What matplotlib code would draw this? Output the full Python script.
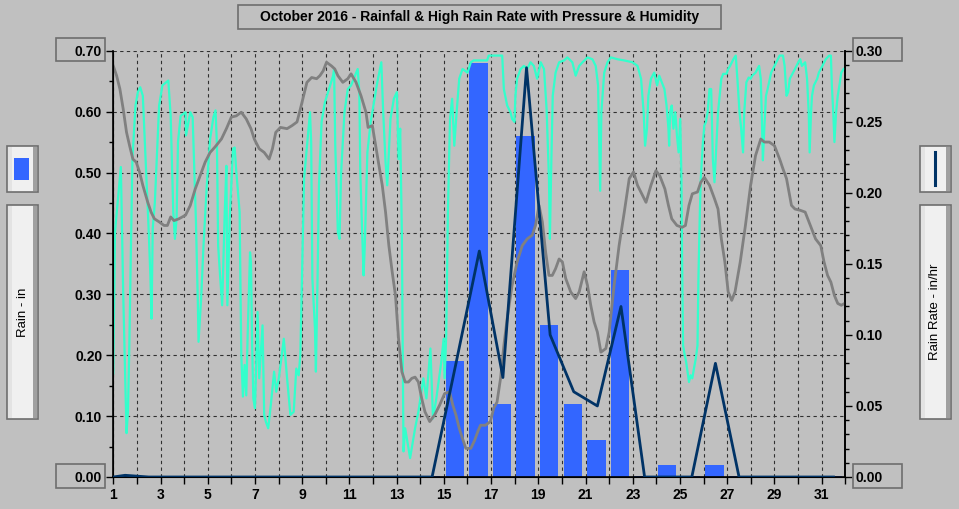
import matplotlib
matplotlib.use('Agg')
import matplotlib.pyplot as plt
from matplotlib.patches import Rectangle
from matplotlib.lines import Line2D
import numpy as np

# daily rainfall (in), bars for days 1..31
rain_day = np.arange(1, 32)
rain_in = [0.002, 0, 0, 0, 0, 0, 0, 0, 0, 0, 0, 0, 0, 0.002, 0.19,
           0.68, 0.12, 0.56, 0.25, 0.12, 0.06, 0.34, 0.002, 0.02, 0.002,
           0.02, 0.002, 0, 0, 0, 0.002]

# high rain rate (in/hr), one point per day, right axis
rate_day = [1.0, 1.5, 2.5, 3.5, 4.5, 5.5, 6.5, 7.5, 8.5, 9.5, 10.5, 11.5,
            12.5, 13.5, 14.5, 15.5, 16.5, 17.5, 18.5, 19.5, 20.5, 21.5,
            22.5, 23.5, 24.5, 25.5, 26.5, 27.5, 28.5, 29.5, 30.5, 31.5]
rate_inhr = [0, 0.0012, 0, 0, 0, 0, 0, 0, 0, 0, 0, 0,
             0, 0, 0, 0.079, 0.159, 0.070, 0.288, 0.100, 0.060, 0.050,
             0.120, 0, 0, 0, 0.080, 0, 0, 0, 0, 0]

# humidity trace (scaled onto rain axis)
hum_day = [1.00, 1.07, 1.21, 1.32, 1.42, 1.56, 1.62, 1.67, 1.81, 1.94, 2.04, 2.14,
           2.25, 2.49, 2.57, 2.62, 2.67, 2.76, 2.94, 3.08, 3.33, 3.43, 3.54, 3.61,
           3.68, 3.74, 3.85, 4.06, 4.08, 4.26, 4.36, 4.50, 4.58, 4.61, 4.72, 4.82,
           4.96, 5.10, 5.24, 5.33, 5.39, 5.44, 5.53, 5.61, 5.72, 5.79, 5.83, 5.93,
           6.07, 6.14, 6.21, 6.35, 6.42, 6.49, 6.56, 6.63, 6.69, 6.79, 6.83, 6.88,
           6.93, 7.00, 7.11, 7.18, 7.32, 7.39, 7.46, 7.56, 7.67, 7.81, 7.90, 8.01,
           8.22, 8.36, 8.50, 8.64, 8.75, 8.85, 8.92, 8.99, 9.08, 9.33, 9.38, 9.43,
           9.54, 9.58, 9.65, 9.71, 9.82, 9.96, 10.31, 10.35, 10.40, 10.51, 10.58, 10.65,
           10.79, 10.93, 11.07, 11.35, 11.42, 11.46, 11.53, 11.60, 11.65, 11.76, 11.90, 12.18,
           12.35, 12.43, 12.53, 12.60, 12.74, 12.88, 13.01, 13.08, 13.15, 13.22, 13.29, 13.36,
           13.57, 13.78, 13.92, 14.13, 14.26, 14.43, 14.54, 14.68, 14.89, 14.99, 15.03, 15.10,
           15.17, 15.26, 15.35, 15.44, 15.54, 15.65, 15.79, 16.00, 16.14, 16.26, 16.83, 16.90,
           17.47, 17.54, 17.68, 17.82, 17.89, 17.99, 18.03, 18.10, 18.25, 18.39, 18.53, 18.67,
           18.81, 18.95, 19.10, 19.24, 19.35, 19.45, 19.49, 19.55, 19.61, 19.73, 19.88, 20.09,
           20.23, 20.44, 20.58, 20.73, 20.87, 21.08, 21.29, 21.43, 21.53, 21.62, 21.67, 21.79,
           21.93, 22.07, 22.35, 22.64, 22.99, 23.20, 23.35, 23.46, 23.52, 23.60, 23.66, 23.77,
           23.91, 24.03, 24.12, 24.34, 24.43, 24.51, 24.54, 24.58, 24.65, 24.72, 24.80, 24.87,
           24.94, 25.01, 25.06, 25.09, 25.13, 25.20, 25.26, 25.30, 25.38, 25.45, 25.52, 25.59,
           25.67, 25.74, 25.78, 25.84, 25.88, 25.96, 26.03, 26.10, 26.17, 26.25, 26.32, 26.39,
           26.46, 26.54, 26.61, 26.68, 26.75, 26.83, 26.97, 27.04, 27.12, 27.26, 27.36, 27.43,
           27.52, 27.59, 27.67, 27.72, 27.81, 27.91, 27.99, 28.06, 28.20, 28.28, 28.35, 28.42,
           28.46, 28.51, 28.57, 28.64, 28.71, 28.86, 29.00, 29.14, 29.22, 29.36, 29.43, 29.51,
           29.58, 29.65, 29.87, 30.01, 30.09, 30.16, 30.30, 30.38, 30.45, 30.49, 30.55, 30.59,
           30.67, 30.81, 30.88, 31.03, 31.17, 31.32, 31.39, 31.43, 31.49, 31.54, 31.61, 31.68,
           31.75, 31.83, 31.93]
hum_val = [0.170, 0.402, 0.462, 0.509, 0.301, 0.072, 0.107, 0.197, 0.522, 0.610, 0.632, 0.640,
           0.626, 0.413, 0.331, 0.260, 0.408, 0.451, 0.610, 0.643, 0.651, 0.593, 0.435, 0.391,
           0.424, 0.550, 0.593, 0.599, 0.561, 0.599, 0.591, 0.419, 0.287, 0.222, 0.293, 0.380,
           0.479, 0.555, 0.591, 0.602, 0.544, 0.380, 0.326, 0.282, 0.435, 0.511, 0.282, 0.424,
           0.539, 0.541, 0.501, 0.435, 0.200, 0.132, 0.184, 0.134, 0.233, 0.369, 0.353, 0.216,
           0.129, 0.113, 0.271, 0.162, 0.249, 0.102, 0.091, 0.080, 0.118, 0.173, 0.140, 0.162,
           0.227, 0.162, 0.102, 0.107, 0.178, 0.167, 0.200, 0.326, 0.490, 0.599, 0.550, 0.326,
           0.244, 0.173, 0.326, 0.479, 0.583, 0.615, 0.659, 0.670, 0.544, 0.402, 0.391, 0.501,
           0.599, 0.637, 0.643, 0.670, 0.632, 0.501, 0.413, 0.331, 0.380, 0.533, 0.583, 0.648,
           0.681, 0.599, 0.517, 0.479, 0.588, 0.621, 0.632, 0.522, 0.572, 0.400, 0.042, 0.080,
           0.031, 0.080, 0.107, 0.162, 0.129, 0.211, 0.096, 0.129, 0.189, 0.227, 0.162, 0.233,
           0.435, 0.588, 0.621, 0.544, 0.599, 0.654, 0.670, 0.664, 0.681, 0.684, 0.684, 0.692,
           0.692, 0.637, 0.610, 0.599, 0.588, 0.583, 0.626, 0.654, 0.670, 0.675, 0.670, 0.681,
           0.675, 0.654, 0.681, 0.670, 0.604, 0.490, 0.391, 0.517, 0.626, 0.664, 0.681, 0.684,
           0.689, 0.681, 0.659, 0.675, 0.681, 0.689, 0.686, 0.675, 0.643, 0.470, 0.599, 0.664,
           0.681, 0.689, 0.686, 0.684, 0.681, 0.675, 0.654, 0.599, 0.544, 0.572, 0.626, 0.654,
           0.664, 0.643, 0.659, 0.637, 0.610, 0.572, 0.544, 0.599, 0.610, 0.572, 0.599, 0.561,
           0.533, 0.588, 0.490, 0.353, 0.216, 0.200, 0.189, 0.178, 0.156, 0.167, 0.162, 0.178,
           0.195, 0.216, 0.326, 0.435, 0.490, 0.544, 0.577, 0.583, 0.599, 0.637, 0.637, 0.522,
           0.484, 0.544, 0.599, 0.626, 0.654, 0.662, 0.662, 0.670, 0.675, 0.686, 0.692, 0.654,
           0.599, 0.572, 0.533, 0.599, 0.648, 0.656, 0.654, 0.659, 0.664, 0.670, 0.675, 0.654,
           0.599, 0.520, 0.572, 0.626, 0.637, 0.664, 0.675, 0.686, 0.692, 0.692, 0.675, 0.626,
           0.632, 0.654, 0.670, 0.681, 0.686, 0.675, 0.681, 0.654, 0.599, 0.533, 0.599, 0.626,
           0.643, 0.654, 0.664, 0.675, 0.686, 0.692, 0.692, 0.643, 0.599, 0.550, 0.599, 0.626,
           0.643, 0.664, 0.670]

# barometric pressure trace (scaled onto rain axis)
press_day = [1.00, 1.14, 1.28, 1.42, 1.56, 1.69, 1.83, 1.97, 2.11, 2.25, 2.46, 2.60,
             2.74, 2.94, 3.15, 3.29, 3.43, 3.57, 3.78, 4.06, 4.26, 4.47, 4.68, 4.89,
             5.10, 5.31, 5.58, 5.79, 6.00, 6.21, 6.42, 6.63, 6.83, 6.97, 7.18, 7.39,
             7.60, 7.74, 7.88, 8.08, 8.36, 8.57, 8.78, 8.92, 9.06, 9.20, 9.40, 9.61,
             9.75, 9.89, 10.03, 10.24, 10.38, 10.51, 10.72, 10.93, 11.07, 11.28, 11.49, 11.70,
             11.79, 11.97, 12.11, 12.25, 12.39, 12.53, 12.67, 12.81, 12.95, 13.08, 13.22, 13.36,
             13.50, 13.64, 13.78, 13.92, 14.06, 14.20, 14.40, 14.61, 14.82, 15.03, 15.24, 15.38,
             15.51, 15.65, 15.79, 15.93, 16.14, 16.30, 16.45, 16.55, 16.76, 16.97, 17.11, 17.25,
             17.40, 17.54, 17.68, 17.89, 18.10, 18.32, 18.53, 18.74, 18.88, 19.03, 19.17, 19.31,
             19.45, 19.59, 19.73, 19.88, 20.02, 20.16, 20.37, 20.58, 20.73, 20.94, 21.08, 21.22,
             21.36, 21.50, 21.65, 21.86, 22.00, 22.21, 22.42, 22.64, 22.85, 23.03, 23.20, 23.42,
             23.56, 23.77, 23.98, 24.14, 24.36, 24.51, 24.65, 24.87, 25.09, 25.23, 25.38, 25.52,
             25.74, 25.88, 26.03, 26.25, 26.46, 26.61, 26.75, 26.90, 27.04, 27.19, 27.33, 27.55,
             27.77, 27.99, 28.20, 28.42, 28.57, 28.78, 29.00, 29.22, 29.36, 29.51, 29.72, 29.87,
             30.09, 30.30, 30.52, 30.74, 30.96, 31.10, 31.25, 31.39, 31.54, 31.68, 31.83, 31.97]
press_val = [0.675, 0.659, 0.637, 0.604, 0.566, 0.544, 0.522, 0.517, 0.501, 0.479, 0.451, 0.435,
             0.424, 0.419, 0.413, 0.413, 0.427, 0.421, 0.424, 0.430, 0.446, 0.473, 0.495, 0.517,
             0.533, 0.542, 0.555, 0.572, 0.591, 0.593, 0.599, 0.588, 0.572, 0.555, 0.539, 0.533,
             0.522, 0.539, 0.566, 0.574, 0.572, 0.577, 0.583, 0.604, 0.626, 0.648, 0.656, 0.654,
             0.659, 0.667, 0.681, 0.675, 0.670, 0.659, 0.648, 0.654, 0.662, 0.648, 0.626, 0.599,
             0.574, 0.577, 0.544, 0.511, 0.479, 0.435, 0.380, 0.337, 0.298, 0.227, 0.173, 0.156,
             0.156, 0.162, 0.164, 0.156, 0.129, 0.107, 0.091, 0.102, 0.118, 0.137, 0.140, 0.118,
             0.102, 0.080, 0.063, 0.047, 0.047, 0.060, 0.076, 0.085, 0.085, 0.091, 0.113, 0.123,
             0.162, 0.216, 0.260, 0.315, 0.353, 0.380, 0.391, 0.397, 0.413, 0.446, 0.419, 0.369,
             0.331, 0.331, 0.342, 0.358, 0.353, 0.326, 0.304, 0.293, 0.304, 0.337, 0.315, 0.282,
             0.255, 0.238, 0.205, 0.211, 0.238, 0.315, 0.380, 0.435, 0.490, 0.501, 0.479, 0.462,
             0.451, 0.479, 0.503, 0.495, 0.473, 0.446, 0.424, 0.413, 0.410, 0.413, 0.446, 0.465,
             0.468, 0.484, 0.492, 0.479, 0.457, 0.440, 0.391, 0.353, 0.304, 0.290, 0.304, 0.353,
             0.413, 0.479, 0.528, 0.555, 0.550, 0.550, 0.544, 0.522, 0.506, 0.490, 0.446, 0.440,
             0.438, 0.435, 0.413, 0.391, 0.380, 0.353, 0.331, 0.320, 0.298, 0.285, 0.282, 0.285]

rain_ticks = [0.0, 0.1, 0.2, 0.3, 0.4, 0.5, 0.6, 0.7]
rain_labels = ['0.00', '0.10', '0.20', '0.30', '0.40', '0.50', '0.60', '0.70']
rate_ticks = [0.0, 0.05, 0.10, 0.15, 0.20, 0.25, 0.30]
rate_labels = ['0.00', '0.05', '0.10', '0.15', '0.20', '0.25', '0.30']
title = 'October 2016 - Rainfall & High Rain Rate with Pressure & Humidity'

BG = '#C0C0C0'
W, H = 959, 509
plt.rcParams['font.family'] = ['Liberation Sans', 'DejaVu Sans']

fig = plt.figure(figsize=(W / 100, H / 100), dpi=100, facecolor=BG)


def box(x0, y0, x1, y1, **kw):
    # rectangle given in pixel coords, y measured from the top
    r = Rectangle((x0 / W, 1 - y1 / H), (x1 - x0) / W, (y1 - y0) / H,
                  transform=fig.transFigure, **kw)
    fig.add_artist(r)


def panel(x0, y0, x1, y1):
    box(x0, y0, x1, y1, facecolor='#F0F0F0', edgecolor='#6E6E6E', lw=1.2)
    box(x0 + 1, y0 + 1, x0 + 5, y1 - 1, facecolor='#E3E3E3', lw=0)
    box(x1 - 5, y0 + 1, x1 - 1, y1 - 1, facecolor='#A0A0A0', lw=0)


ax = fig.add_axes([113.3 / W, 1 - 477 / H, 732 / W, 426.3 / H])
ax.set_facecolor(BG)
ax.set_xlim(1, 32)
ax.set_ylim(0, 0.70)

ax.bar(rain_day + 0.46, rain_in, width=0.78, color='#3366FF', zorder=2)
ax.plot(hum_day, hum_val, color='#33FFCC', lw=1.6, zorder=3)
ax.plot(press_day, press_val, color='#808080', lw=2.0, zorder=4)

ax.set_xticks(range(1, 33))
ax.set_xticklabels([str(d) if d % 2 == 1 else '' for d in range(1, 33)])
ax.set_yticks(rain_ticks)
ax.set_yticklabels(rain_labels)
ax.set_yticks(np.arange(0.05, 0.7, 0.1), minor=True)
ax.set_axisbelow(True)
ax.grid(True, which='major', color='#303030', lw=0.8, ls=(0, (3, 3)))
ax.tick_params(axis='x', direction='out', length=5, width=1, pad=3,
               labelsize=10)
ax.tick_params(axis='y', which='major', direction='out', length=5, width=1,
               pad=3, labelsize=10)
ax.tick_params(axis='y', which='minor', direction='out', length=3, width=1)
for lab in ax.get_xticklabels() + ax.get_yticklabels():
    lab.set_fontweight('bold')
ax.spines['top'].set_visible(False)
for s in ['left', 'bottom', 'right']:
    ax.spines[s].set_linewidth(1.2)

ax2 = ax.twinx()
ax2.set_ylim(0, 0.30)
ax2.plot(rate_day, rate_inhr, color='#003366', lw=2.0, zorder=5)
ax2.set_yticks(rate_ticks)
ax2.set_yticklabels(rate_labels, fontweight='bold')
ax2.set_yticks(np.arange(0.01, 0.30, 0.01), minor=True)
ax2.tick_params(axis='y', which='major', direction='out', length=5, width=1,
                pad=2, labelsize=10)
ax2.tick_params(axis='y', which='minor', direction='out', length=3, width=1)
ax2.spines['top'].set_visible(False)
ax2.spines['right'].set_linewidth(1.2)

# title and value frames
box(238, 5, 721, 29, facecolor='none', edgecolor='#6E6E6E', lw=1.2)
fig.text(479.5 / W, 1 - 17.5 / H, title, ha='center', va='center',
         fontsize=10, fontweight='bold')
for x0 in (56, 853):
    box(x0, 38, x0 + 49, 61, facecolor='none', edgecolor='#6E6E6E', lw=1.2)
    box(x0, 464, x0 + 49, 488, facecolor='none', edgecolor='#6E6E6E', lw=1.2)

# side legend panels
panel(7, 146, 38, 192)
box(14, 158, 29, 180, facecolor='#3366FF', lw=0)
panel(920, 146, 951, 192)
fig.add_artist(Line2D([935 / W, 935 / W], [1 - 152 / H, 1 - 185 / H],
                      transform=fig.transFigure, color='#003366', lw=2.2))
panel(7, 205, 38, 419)
fig.text(22.5 / W, 1 - 312 / H, 'Rain - in', rotation=90, ha='center',
         va='center', fontsize=9.5)
panel(920, 205, 951, 419)
fig.text(935.5 / W, 1 - 312 / H, 'Rain Rate - in/hr', rotation=90,
         ha='center', va='center', fontsize=9.5)

fig.savefig('out.png', dpi=100, facecolor=BG)
